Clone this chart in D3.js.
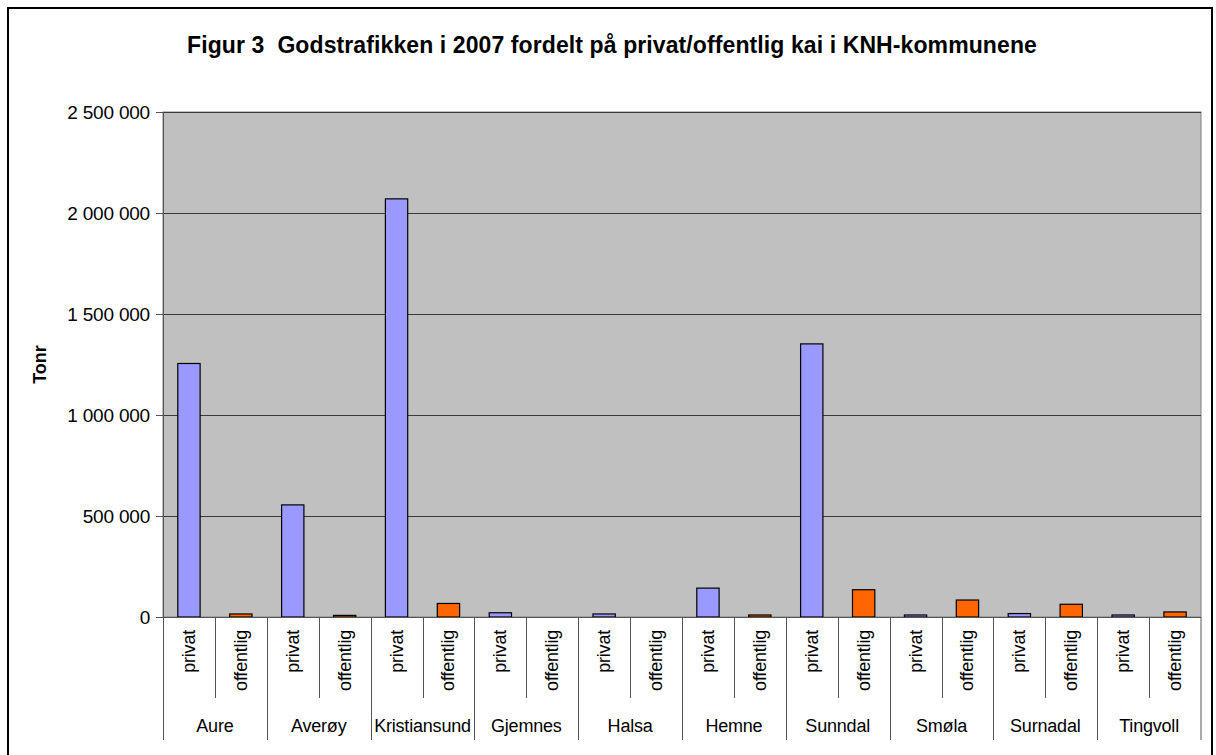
<!DOCTYPE html>
<html>
<head>
<meta charset="utf-8">
<script src="https://cdn.jsdelivr.net/npm/d3@7"></script>
<style>
	body { margin: 0; background: #fff; }
	text { font-family: 'Liberation Sans', Arial, sans-serif; fill: #000; }
	.title { font-weight: bold; font-size: 23px; letter-spacing: 0.1px; white-space: pre; }
	.axis-title { font-weight: bold; font-size: 18px; }
	.tick-label { font-size: 19px; letter-spacing: -0.2px; }
	.cat-label { font-size: 18px; letter-spacing: -0.2px; }
</style>
</head>
<body>
<script>

// - data -

var kommuner = ['Aure', 'Averøy', 'Kristiansund', 'Gjemnes', 'Halsa', 'Hemne', 'Sunndal', 'Smøla', 'Surnadal', 'Tingvoll'];
var kaiTyper = ['privat', 'offentlig'];
var privat = [1255000, 555000, 2070000, 21000, 15000, 143000, 1352000, 10000, 17000, 10000];
var offentlig = [15000, 8000, 67000, 0, 0, 10000, 135000, 84000, 63000, 25000];
var yTicks = [0, 500000, 1000000, 1500000, 2000000, 2500000];

var titleText = 'Figur 3  Godstrafikken i 2007 fordelt på privat/offentlig kai i KNH-kommunene';
var yTitle = 'Tonr';

// - global -

var width = 1216;
var height = 755;

var plot = { left: 163, right: 1201, top: 112, bottom: 617 };

var colors = { privat: '#9999FF', offentlig: '#FF6600' };

var svg = d3.select('body').append('svg')
	.attr('width', width)
	.attr('height', height);

// outer frame
svg.append('rect')
	.attr('x', 8).attr('y', 8)
	.attr('width', 1204).attr('height', 752)
	.attr('fill', '#fff')
	.attr('stroke', '#000')
	.attr('stroke-width', 2);

// - scales -

var x0 = d3.scaleBand()
	.domain(kommuner)
	.range([plot.left, plot.right]);

var x1 = d3.scaleBand()
	.domain(kaiTyper)
	.range([0, x0.bandwidth()]);

var y = d3.scaleLinear()
	.domain([0, 2500000])
	.range([plot.bottom, plot.top]);

var locale = d3.formatLocale({ decimal: ',', thousands: ' ', grouping: [3], currency: ['', ''] });
var fmt = locale.format(',');

// - plot area -

svg.append('rect')
	.attr('x', plot.left)
	.attr('y', plot.top)
	.attr('width', plot.right - plot.left)
	.attr('height', plot.bottom - plot.top)
	.attr('fill', '#C0C0C0')
	.attr('stroke', '#808080')
	.attr('stroke-width', 1);

// gridlines
svg.append('g')
	.selectAll('line')
	.data(yTicks.filter(d => d > 0))
	.enter().append('line')
		.attr('x1', plot.left)
		.attr('x2', plot.right)
		.attr('y1', d => Math.round(y(d)) + 0.5)
		.attr('y2', d => Math.round(y(d)) + 0.5)
		.attr('stroke', '#3a3a3a')
		.attr('stroke-width', 1);

// y axis
var yAxis = svg.append('g')
	.attr('transform', 'translate(' + plot.left + ',0)')
	.call(d3.axisLeft(y).tickValues(yTicks).tickFormat(fmt).tickSize(7).tickPadding(6));

yAxis.select('.domain').attr('stroke', '#555');
yAxis.selectAll('.tick line').attr('stroke', '#555');
yAxis.selectAll('.tick text')
	.attr('class', 'tick-label')
	.attr('font-family', null)
	.attr('font-size', null)
	.attr('fill', '#000');

svg.append('text')
	.attr('class', 'axis-title')
	.attr('transform', 'translate(46,' + ((plot.top + plot.bottom) / 2) + ') rotate(-90)')
	.attr('text-anchor', 'middle')
	.text(yTitle);

// title
svg.append('text')
	.attr('class', 'title')
	.attr('x', 612)
	.attr('y', 53)
	.attr('text-anchor', 'middle')
	.text(titleText);

// - bars -

var rows = kommuner.map((k, i) => ({ kommune: k, privat: privat[i], offentlig: offentlig[i] }));
var barW = x1.bandwidth() * 0.43;

var gGroup = svg.append('g')
	.selectAll('g')
	.data(rows)
	.enter().append('g')
		.attr('transform', d => 'translate(' + x0(d.kommune) + ',0)');

gGroup.selectAll('rect')
	.data(d => kaiTyper.map(t => ({ type: t, value: d[t] })).filter(e => e.value > 0))
	.enter().append('rect')
		.attr('x', d => x1(d.type) + (x1.bandwidth() - barW) / 2)
		.attr('y', d => y(d.value))
		.attr('width', barW)
		.attr('height', d => y(0) - y(d.value))
		.attr('fill', d => colors[d.type])
		.attr('stroke', '#000')
		.attr('stroke-width', 1.2);

// - category axis -

var gX = svg.append('g');

// baseline
gX.append('line')
	.attr('x1', plot.left - 7)
	.attr('x2', plot.right)
	.attr('y1', plot.bottom + 0.5)
	.attr('y2', plot.bottom + 0.5)
	.attr('stroke', '#555');

// group separators (long)
gX.selectAll('.sep-group')
	.data(kommuner.concat(['_end']))
	.enter().append('line')
		.attr('x1', d => d === '_end' ? plot.right : Math.round(x0(d)) + 0.5)
		.attr('x2', d => d === '_end' ? plot.right : Math.round(x0(d)) + 0.5)
		.attr('y1', plot.bottom)
		.attr('y2', 740)
		.attr('stroke', '#555');

// sub-category separators (short)
gX.selectAll('.sep-sub')
	.data(kommuner)
	.enter().append('line')
		.attr('x1', d => Math.round(x0(d) + x1('offentlig')) + 0.5)
		.attr('x2', d => Math.round(x0(d) + x1('offentlig')) + 0.5)
		.attr('y1', plot.bottom)
		.attr('y2', 698)
		.attr('stroke', '#555');

// rotated sub-category labels
kommuner.forEach(k => {
	kaiTyper.forEach(t => {
		var cx = x0(k) + x1(t) + x1.bandwidth() / 2;
		gX.append('text')
			.attr('class', 'cat-label')
			.attr('transform', 'translate(' + (cx + 6) + ',630) rotate(-90)')
			.attr('text-anchor', 'end')
			.text(t);
	});
});

// group labels
gX.selectAll('.group-label')
	.data(kommuner)
	.enter().append('text')
		.attr('class', 'cat-label')
		.attr('x', d => x0(d) + x0.bandwidth() / 2)
		.attr('y', 732)
		.attr('text-anchor', 'middle')
		.text(d => d);

</script>
</body>
</html>
